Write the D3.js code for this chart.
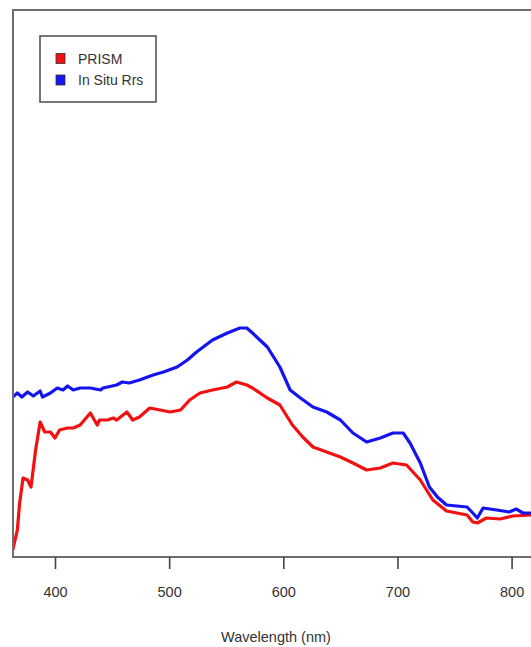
<!DOCTYPE html>
<html>
<head>
<meta charset="utf-8">
<script src="https://cdn.jsdelivr.net/npm/d3@7"></script>
<style>
  html, body { margin: 0; padding: 0; background: #fff; }
  svg { display: block; }
  text { font-family: "Liberation Sans", Arial, sans-serif; fill: #333; }
</style>
</head>
<body>
<div id="chart"></div>
<script>
// ---- Data ----
const seriesNames = ["PRISM", "In Situ Rrs"];
const seriesColors = ["#f21010", "#1414f0"];

const prismWavelength = [363,367,369,372,376,379,383,387,391,396,400,404,411,416,422,431,437,439,446,451,454,463,468,474,483,492,501,510,518,527,538,551,559,568,573,586,597,608,617,626,638,650,661,673,685,696,708,720,731,743,752,761,766,770,778,790,801,817];
const prismRrs = [0.0007,0.0027,0.0054,0.0079,0.0077,0.0070,0.0107,0.0135,0.0125,0.0125,0.0119,0.0127,0.0129,0.0129,0.0132,0.0144,0.0132,0.0137,0.0137,0.0139,0.0137,0.0145,0.0137,0.0140,0.0149,0.0147,0.0145,0.0147,0.0157,0.0164,0.0167,0.0170,0.0175,0.0172,0.0169,0.0159,0.0152,0.0132,0.0120,0.0110,0.0105,0.0100,0.0094,0.0087,0.0089,0.0094,0.0092,0.0077,0.0057,0.0046,0.0044,0.0042,0.0035,0.0034,0.0039,0.0038,0.0041,0.0042];

const insituWavelength = [363,367,371,376,381,387,389,396,402,407,411,416,422,431,440,442,454,459,465,474,486,495,507,516,524,538,551,562,568,573,586,597,606,615,626,638,650,661,673,685,696,705,711,720,728,735,743,752,761,766,770,775,787,798,804,810,817];
const insituRrs = [0.0160,0.0164,0.0160,0.0165,0.0161,0.0166,0.0160,0.0164,0.0169,0.0167,0.0171,0.0167,0.0169,0.0169,0.0167,0.0169,0.0172,0.0175,0.0174,0.0177,0.0182,0.0185,0.0190,0.0197,0.0205,0.0217,0.0224,0.0229,0.0229,0.0224,0.0210,0.0190,0.0167,0.0159,0.0150,0.0145,0.0137,0.0124,0.0115,0.0119,0.0124,0.0124,0.0114,0.0094,0.0070,0.0060,0.0052,0.0051,0.0050,0.0044,0.0039,0.0049,0.0047,0.0045,0.0048,0.0044,0.0044];

const xTicks = [400, 500, 600, 700, 800];
const xDomain = [363.2, 817];
const yDomain = [0, 0.0547];
const xTitle = "Wavelength (nm)";

// ---- Layout ----
const W = 531, H = 647;
const plot = { left: 13, top: 10, right: 531, bottom: 557 };

const svg = d3.select("#chart").append("svg")
  .attr("width", W).attr("height", H);

const x = d3.scaleLinear().domain(xDomain).range([plot.left, plot.right]);
const y = d3.scaleLinear().domain(yDomain).range([plot.bottom, plot.top]);

svg.append("clipPath").attr("id", "clip")
  .append("rect")
  .attr("x", plot.left).attr("y", plot.top)
  .attr("width", plot.right - plot.left + 20)
  .attr("height", plot.bottom - plot.top);

const line = d3.line().x(d => x(d[0])).y(d => y(d[1])).curve(d3.curveLinear);
const series = [
  d3.zip(prismWavelength, prismRrs),
  d3.zip(insituWavelength, insituRrs)
];
const g = svg.append("g").attr("clip-path", "url(#clip)");
series.forEach((s, i) => {
  g.append("path")
    .datum(s)
    .attr("d", line)
    .attr("fill", "none")
    .attr("stroke", seriesColors[i])
    .attr("stroke-width", 3.2)
    .attr("stroke-linejoin", "round")
    .attr("stroke-linecap", "round");
});

// frame (box extends past right edge, cropped)
svg.append("rect")
  .attr("x", plot.left).attr("y", plot.top)
  .attr("width", plot.right - plot.left + 30)
  .attr("height", plot.bottom - plot.top)
  .attr("fill", "none")
  .attr("stroke", "#6e6e6e")
  .attr("stroke-width", 2);

// x axis
const xAxis = d3.axisBottom(x).tickValues(xTicks).tickSize(12).tickPadding(18).tickFormat(d3.format("d"));
const ax = svg.append("g")
  .attr("transform", `translate(0,${plot.bottom})`)
  .call(xAxis);
ax.select(".domain").remove();
ax.selectAll(".tick line").attr("stroke", "#444").attr("stroke-width", 1.6);
ax.selectAll(".tick text")
  .attr("font-size", 14.5)
  .style("font-family", '"Liberation Sans", Arial, sans-serif')
  .attr("fill", "#333");

// x title
svg.append("text")
  .attr("x", 276)
  .attr("y", 642)
  .attr("text-anchor", "middle")
  .attr("font-size", 14.5)
  .text(xTitle);

// legend
const lg = svg.append("g");
lg.append("rect")
  .attr("x", 40).attr("y", 36)
  .attr("width", 116).attr("height", 66)
  .attr("fill", "#fff")
  .attr("stroke", "#555")
  .attr("stroke-width", 1.6);
seriesNames.forEach((name, i) => {
  const yy = 58.5 + i * 21.5;
  lg.append("rect")
    .attr("x", 56).attr("y", yy - 5)
    .attr("width", 9).attr("height", 10)
    .attr("fill", seriesColors[i])
    .attr("stroke", "#333")
    .attr("stroke-width", 0.8);
  lg.append("text")
    .attr("x", 78).attr("y", yy + 5)
    .attr("font-size", 14)
    .text(name);
});
</script>
</body>
</html>
